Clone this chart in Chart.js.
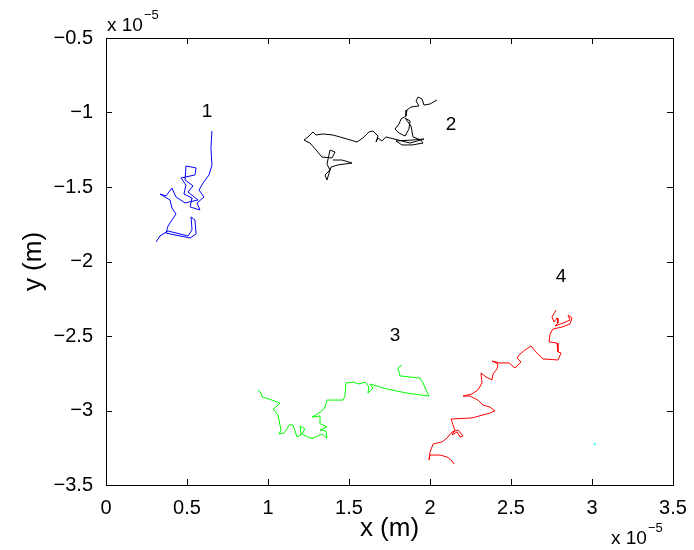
<!DOCTYPE html>
<html>
<head>
<meta charset="utf-8">
<script src="https://cdn.jsdelivr.net/npm/chart.js@4.4.0/dist/chart.umd.min.js"></script>
<style>
  html, body { margin: 0; padding: 0; background: #fff; }
  #wrap { width: 694px; height: 550px; position: relative; }
</style>
</head>
<body>
<div id="wrap"><canvas id="chart"></canvas></div>
<script>
// posiciones en unidades de 1e-5 m
const track1X = [0.654,0.648,0.654,0.636,0.599,0.574,0.605,0.562,0.580,0.519,0.531,0.481,0.494,0.463,0.549,0.556,0.494,0.488,0.537,0.506,0.568,0.488,0.432,0.407,0.370,0.333,0.395,0.407,0.432,0.407,0.383,0.370,0.426,0.519,0.556,0.549,0.525,0.531,0.506,0.383,0.333,0.309];
const track1Y = [-1.124,-1.238,-1.352,-1.419,-1.473,-1.520,-1.567,-1.607,-1.654,-1.634,-1.574,-1.547,-1.487,-1.440,-1.419,-1.372,-1.359,-1.453,-1.493,-1.534,-1.587,-1.607,-1.567,-1.507,-1.560,-1.547,-1.587,-1.641,-1.681,-1.721,-1.762,-1.809,-1.822,-1.842,-1.815,-1.721,-1.701,-1.788,-1.829,-1.795,-1.829,-1.869];

const track2X = [2.043,2.000,1.963,1.951,1.926,1.914,1.932,1.883,1.858,1.852,1.821,1.809,1.784,1.809,1.846,1.870,1.877,1.846,1.883,1.895,1.944,1.957,1.889,1.827,1.790,1.889,1.963,1.877,1.753,1.728,1.704,1.679,1.667,1.679,1.648,1.623,1.586,1.549,1.488,1.401,1.340,1.296,1.278,1.247,1.222,1.259,1.302,1.333,1.395,1.414,1.383,1.364,1.383,1.352,1.364,1.389,1.432,1.519,1.457,1.401];
const track2Y = [-0.916,-0.943,-0.950,-0.909,-0.896,-0.923,-0.956,-0.963,-0.983,-1.023,-1.044,-1.077,-1.111,-1.138,-1.158,-1.111,-1.057,-1.037,-1.091,-1.164,-1.185,-1.205,-1.218,-1.218,-1.191,-1.185,-1.178,-1.205,-1.171,-1.164,-1.191,-1.171,-1.198,-1.158,-1.124,-1.131,-1.171,-1.198,-1.178,-1.151,-1.144,-1.151,-1.131,-1.164,-1.185,-1.205,-1.258,-1.299,-1.305,-1.265,-1.252,-1.346,-1.386,-1.419,-1.453,-1.366,-1.352,-1.339,-1.319,-1.319];

const track3X = [0.938,0.957,0.963,1.025,1.074,1.049,1.031,1.062,1.080,1.068,1.099,1.117,1.130,1.154,1.179,1.204,1.198,1.228,1.210,1.259,1.278,1.333,1.364,1.358,1.321,1.364,1.327,1.321,1.272,1.333,1.352,1.364,1.463,1.475,1.481,1.525,1.562,1.599,1.623,1.617,1.648,1.630,1.735,1.858,1.994,1.981,1.957,1.938,1.877,1.815,1.802,1.827];
const track3Y = [-2.862,-2.883,-2.909,-2.930,-2.950,-2.977,-2.990,-3.030,-3.131,-3.158,-3.151,-3.124,-3.097,-3.097,-3.178,-3.164,-3.104,-3.124,-3.158,-3.185,-3.185,-3.158,-3.185,-3.138,-3.131,-3.111,-3.091,-3.037,-3.044,-3.003,-2.977,-2.930,-2.930,-2.903,-2.815,-2.809,-2.822,-2.809,-2.842,-2.883,-2.849,-2.822,-2.856,-2.883,-2.903,-2.876,-2.815,-2.782,-2.775,-2.768,-2.715,-2.695];

const track4X = [2.778,2.753,2.765,2.784,2.790,2.772,2.821,2.864,2.852,2.877,2.864,2.815,2.759,2.741,2.735,2.784,2.790,2.809,2.790,2.698,2.660,2.623,2.586,2.556,2.537,2.562,2.525,2.488,2.432,2.383,2.420,2.414,2.389,2.383,2.346,2.315,2.321,2.296,2.259,2.204,2.247,2.296,2.327,2.370,2.401,2.370,2.259,2.130,2.142,2.154,2.136,2.167,2.185,2.204,2.173,2.136,2.105,2.074,2.019,2.000,1.994,2.000,2.062,2.105,2.136,2.148];
const track4Y = [-2.326,-2.372,-2.406,-2.379,-2.413,-2.433,-2.413,-2.393,-2.359,-2.379,-2.419,-2.440,-2.453,-2.487,-2.540,-2.547,-2.607,-2.614,-2.661,-2.654,-2.614,-2.567,-2.594,-2.621,-2.648,-2.674,-2.715,-2.681,-2.681,-2.668,-2.688,-2.721,-2.755,-2.795,-2.775,-2.748,-2.815,-2.862,-2.889,-2.903,-2.903,-2.930,-2.963,-2.977,-3.003,-3.017,-3.050,-3.057,-3.097,-3.131,-3.164,-3.144,-3.178,-3.171,-3.131,-3.144,-3.185,-3.211,-3.225,-3.279,-3.332,-3.299,-3.299,-3.312,-3.339,-3.359];

// punto aislado (cian)
const strayX = [3.017];
const strayY = [-3.227];

// etiquetas de cada trayectoria
const trackNames = ['1', '2', '3', '4'];
const nameX = [0.623, 2.130, 1.784, 2.809];
const nameY = [-0.997, -1.084, -2.500, -2.104];

const xTicks = [0, 0.5, 1, 1.5, 2, 2.5, 3, 3.5];
const yTicks = [-3.5, -3, -2.5, -2, -1.5, -1, -0.5];

const FONT = "'Liberation Sans', Arial, Helvetica, sans-serif";

function toPoints(xs, ys) {
    return xs.map((v, i) => ({ x: v, y: ys[i] }));
}

function fmt(v) {
    return (v < 0 ? '\u2212' : '') + Math.abs(v);
}

// Caja estilo MATLAB, marcas hacia dentro, exponentes y nombres
const matlabBox = {
    id: 'matlabBox',
    afterDraw(chart) {
        const { ctx, chartArea: a, scales: { x, y } } = chart;
        ctx.save();
        ctx.strokeStyle = '#000';
        ctx.lineWidth = 1;
        ctx.strokeRect(a.left + 0.5, a.top + 0.5, a.right - a.left, a.bottom - a.top);

        ctx.beginPath();
        xTicks.forEach(v => {
            const px = Math.round(x.getPixelForValue(v)) + 0.5;
            ctx.moveTo(px, a.bottom); ctx.lineTo(px, a.bottom - 6);
            ctx.moveTo(px, a.top); ctx.lineTo(px, a.top + 6);
        });
        yTicks.forEach(v => {
            const py = Math.round(y.getPixelForValue(v)) + 0.5;
            ctx.moveTo(a.left, py); ctx.lineTo(a.left + 6, py);
            ctx.moveTo(a.right, py); ctx.lineTo(a.right - 6, py);
        });
        ctx.stroke();

        ctx.fillStyle = '#000';
        ctx.textBaseline = 'alphabetic';
        ctx.textAlign = 'left';
        // x 10^-5 arriba a la izquierda
        ctx.font = '19px ' + FONT;
        ctx.fillText('x 10', a.left + 1, a.top - 7);
        const w1 = ctx.measureText('x 10').width;
        ctx.font = '13px ' + FONT;
        ctx.fillText('\u22125', a.left + 2 + w1, a.top - 19);
        // x 10^-5 abajo a la derecha
        ctx.font = '19px ' + FONT;
        ctx.fillText('x 10', 611, 544);
        const w2 = ctx.measureText('x 10').width;
        ctx.font = '13px ' + FONT;
        ctx.fillText('\u22125', 612 + w2, 532);

        // números de trayectoria
        ctx.font = '19px ' + FONT;
        ctx.textAlign = 'center';
        ctx.textBaseline = 'middle';
        trackNames.forEach((t, i) => {
            ctx.fillText(t, x.getPixelForValue(nameX[i]), y.getPixelForValue(nameY[i]));
        });
        ctx.restore();
    }
};

const lineStyle = { showLine: true, pointRadius: 0, borderWidth: 1, tension: 0, fill: false };

new Chart(document.getElementById('chart'), {
    type: 'scatter',
    data: {
        datasets: [
            { ...lineStyle, data: toPoints(track1X, track1Y), borderColor: '#0000ff' },
            { ...lineStyle, data: toPoints(track2X, track2Y), borderColor: '#000000' },
            { ...lineStyle, data: toPoints(track3X, track3Y), borderColor: '#00ff00' },
            { ...lineStyle, data: toPoints(track4X, track4Y), borderColor: '#ff0000' },
            { data: toPoints(strayX, strayY), showLine: false, pointRadius: 1,
              pointBorderWidth: 0, backgroundColor: '#00ffff', borderColor: '#00ffff' }
        ]
    },
    options: {
        responsive: true,
        maintainAspectRatio: false,
        animation: false,
        layout: { padding: { top: 38, right: 21, bottom: 0, left: 0 } },
        plugins: { legend: { display: false }, tooltip: { enabled: false } },
        scales: {
            x: {
                type: 'linear',
                min: 0, max: 3.5,
                afterFit: s => { s.height = 65; },
                afterBuildTicks: s => { s.ticks = xTicks.map(v => ({ value: v })); },
                grid: { display: false },
                border: { display: false },
                ticks: { color: '#000', padding: 3, maxRotation: 0,
                         font: { family: FONT, size: 20 }, callback: v => fmt(v) },
                title: { display: true, text: 'x (m)', color: '#000', padding: { top: 0, bottom: 6 },
                         font: { family: FONT, size: 26 } }
            },
            y: {
                type: 'linear',
                min: -3.5, max: -0.5,
                afterFit: s => { s.width = 106; },
                afterBuildTicks: s => { s.ticks = yTicks.map(v => ({ value: v })); },
                grid: { display: false },
                border: { display: false },
                ticks: { color: '#000', padding: 5,
                         font: { family: FONT, size: 20 }, callback: v => fmt(v) },
                title: { display: true, text: 'y (m)', color: '#000', padding: { top: 18, bottom: 0 },
                         font: { family: FONT, size: 26 } }
            }
        }
    },
    plugins: [matlabBox]
});
</script>
</body>
</html>
